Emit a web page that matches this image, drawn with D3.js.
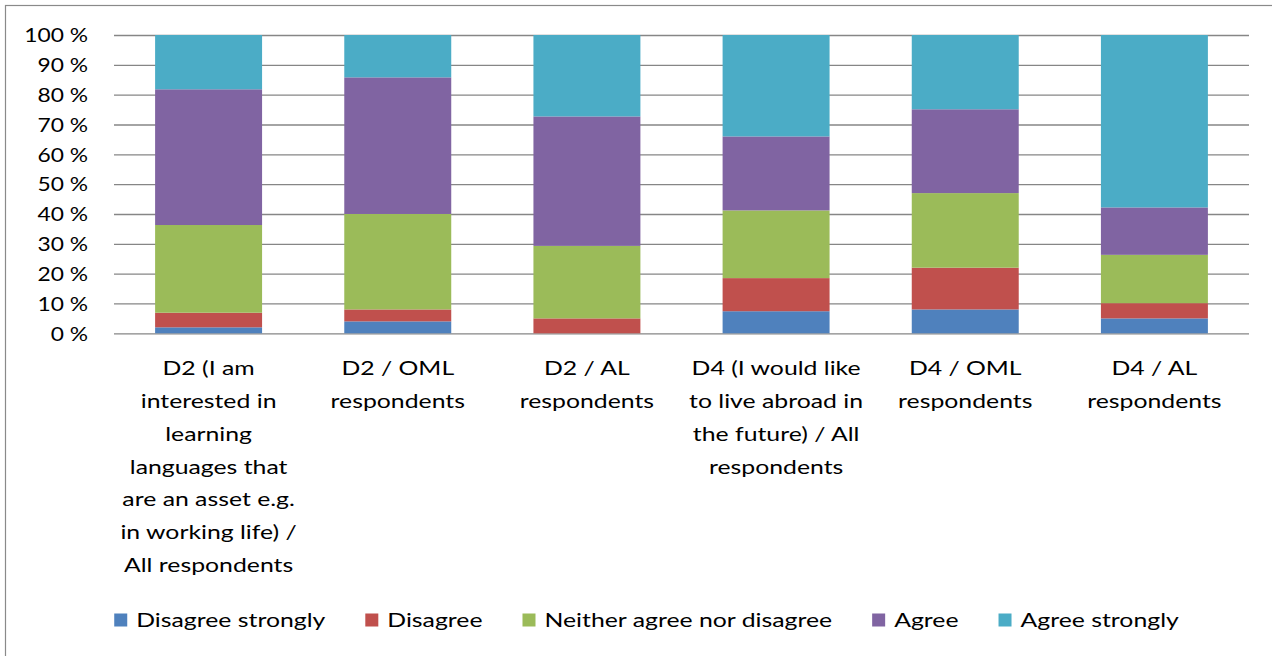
<!DOCTYPE html>
<html>
<head>
<meta charset="utf-8">
<script src="https://cdn.jsdelivr.net/npm/d3@7"></script>
<style>
  html, body { margin: 0; padding: 0; background: #ffffff; }
  svg { display: block; }
  text { font-family: Lato, "Open Sans", sans-serif; fill: #000000; }
</style>
</head>
<body>
<svg id="chart" width="1272" height="656"></svg>
<script>
// Category labels, one entry per bar, already split into display lines
const categories = [
  ["D2 (I am", "interested in", "learning", "languages that", "are an asset e.g.", "in working life) /", "All respondents"],
  ["D2 / OML", "respondents"],
  ["D2 / AL", "respondents"],
  ["D4 (I would like", "to live abroad in", "the future) / All", "respondents"],
  ["D4 / OML", "respondents"],
  ["D4 / AL", "respondents"]
];

// Response scale, bottom to top of each stack
const seriesNames = ["Disagree strongly", "Disagree", "Neither agree nor disagree", "Agree", "Agree strongly"];

// Share of answers (%) per category for each response
const disagreeStrongly = [2.0, 4.0, 0.0, 7.4, 8.0, 5.0];
const disagree         = [4.9, 4.0, 5.0, 11.1, 14.0, 5.1];
const neither          = [29.4, 32.0, 24.3, 22.7, 25.0, 16.2];
const agree            = [45.5, 45.8, 43.4, 24.8, 28.1, 15.9];
const agreeStrongly    = [18.2, 14.2, 27.3, 34.0, 24.9, 57.8];

const tickValues = [0, 10, 20, 30, 40, 50, 60, 70, 80, 90, 100];
const tickLabels = ["0 %", "10 %", "20 %", "30 %", "40 %", "50 %", "60 %", "70 %", "80 %", "90 %", "100 %"];

const colors = ["#4F81BD", "#C0504D", "#9BBB59", "#8064A2", "#4BACC6"];

// Table built from the arrays above for d3.stack
const seriesValues = [disagreeStrongly, disagree, neither, agree, agreeStrongly];
const rows = categories.map((c, i) => {
  const r = { idx: i };
  seriesNames.forEach((s, k) => { r[s] = seriesValues[k][i]; });
  return r;
});

const svg = d3.select("#chart");
const FONT = 20;           // glyph size
const STRETCH = 1.24;      // horizontal widening of label text
const TICK_STRETCH = 1.14; // horizontal widening of the percent labels

// Outer chart frame (only its left and top edges fall inside the page)
svg.append("rect")
  .attr("x", 5.5).attr("y", 5.5)
  .attr("width", 1400).attr("height", 800)
  .attr("fill", "none")
  .attr("stroke", "#8a8a8a")
  .attr("stroke-width", 1.2);

const plot = { left: 114, right: 1249, top: 35, bottom: 333.3 };

const x = d3.scaleBand()
  .domain(d3.range(categories.length))
  .range([plot.left, plot.right])
  .paddingInner(0.4345)
  .paddingOuter(0.2173);

const y = d3.scaleLinear()
  .domain([0, 100])
  .range([plot.bottom, plot.top]);

// Horizontal gridlines
const yAxis = d3.axisLeft(y)
  .tickValues(tickValues)
  .tickSize(-(plot.right - plot.left))
  .tickFormat("");

const gAxis = svg.append("g")
  .attr("transform", `translate(${plot.left},0)`)
  .call(yAxis);
gAxis.select(".domain").remove();
gAxis.selectAll(".tick line")
  .attr("stroke", "#868686")
  .attr("stroke-width", 1.3);

// Y tick labels
svg.append("g").selectAll("g")
  .data(tickValues)
  .join("g")
  .attr("transform", d => `translate(88,${y(d)}) scale(${TICK_STRETCH},1)`)
  .append("text")
  .attr("text-anchor", "end")
  .attr("dy", "0.36em")
  .style("font-size", FONT + "px")
  .text((d, i) => tickLabels[i]);

// Stacked bars
const stack = d3.stack().keys(seriesNames);
const layers = stack(rows);

svg.append("g").selectAll("g")
  .data(layers)
  .join("g")
  .attr("fill", (d, i) => colors[i])
  .selectAll("rect")
  .data(d => d)
  .join("rect")
  .attr("x", d => x(d.data.idx))
  .attr("width", x.bandwidth())
  .attr("y", d => y(d[1]))
  .attr("height", d => Math.max(0, y(d[0]) - y(d[1])));

// Category labels under the bars
const catG = svg.append("g").selectAll("g")
  .data(categories)
  .join("g")
  .attr("transform", (d, i) => `translate(${x(i) + x.bandwidth() / 2},368) scale(${STRETCH},1)`);

catG.selectAll("text")
  .data(d => d)
  .join("text")
  .attr("text-anchor", "middle")
  .attr("y", (d, j) => j * 32.8)
  .attr("dy", "0.36em")
  .style("font-size", FONT + "px")
  .text(d => d);

// Legend, centred under the plot
const legend = svg.append("g");
const items = legend.selectAll("g")
  .data(seriesNames)
  .join("g");

items.append("rect")
  .attr("width", 13).attr("height", 13)
  .attr("y", -6.5)
  .attr("fill", (d, i) => colors[i]);

items.append("g")
  .attr("transform", `translate(22,0) scale(${STRETCH},1)`)
  .append("text")
  .attr("dy", "0.36em")
  .style("font-size", FONT + "px")
  .text(d => d);

const gap = 40;
let cursor = 0;
const positions = [];
items.each(function () {
  const w = this.querySelector("text").getComputedTextLength() * STRETCH;
  positions.push(cursor);
  cursor += 22 + w + gap;
});
const total = cursor - gap;
const startX = 646.5 - total / 2;
items.attr("transform", (d, i) => `translate(${startX + positions[i]},620)`);
</script>
</body>
</html>
